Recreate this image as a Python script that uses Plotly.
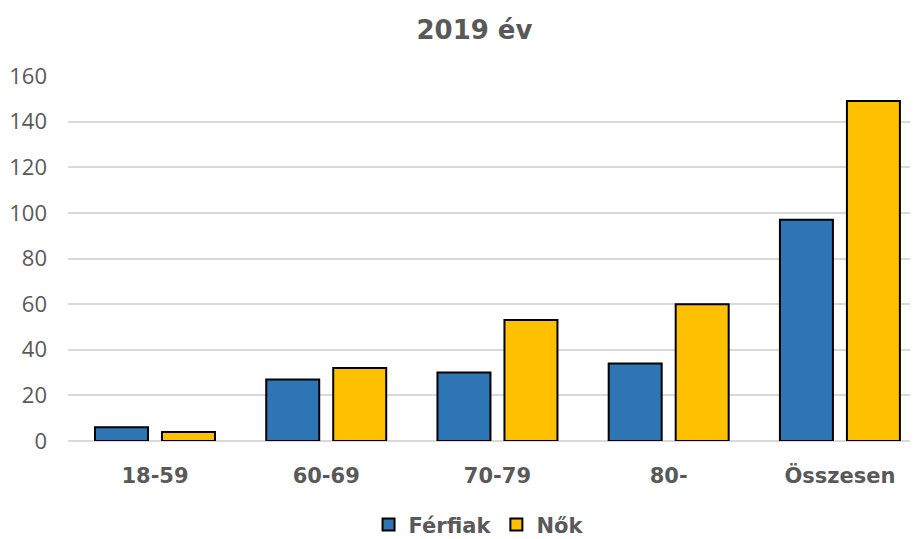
import plotly.graph_objects as go

categories = ["18-59", "60-69", "70-79", "80-", "Összesen"]
ferfiak = [6, 27, 30, 34, 97]
nok = [4, 32, 53, 60, 149]
y_ticks = [0, 20, 40, 60, 80, 100, 120, 140, 160]

BLUE = "#2E75B6"
YELLOW = "#FFC000"
TEXT = "#595959"
GRID = "#D9D9D9"
BOLD_FONT = "DejaVu Sans"
FONT = "Open Sans"

fig = go.Figure()
fig.add_trace(
    go.Bar(
        x=categories, y=ferfiak, name="<b>Férfiak</b>",
        marker=dict(color=BLUE, line=dict(color="black", width=2)),
    )
)
fig.add_trace(
    go.Bar(
        x=categories, y=nok, name="<b>Nők</b>",
        marker=dict(color=YELLOW, line=dict(color="black", width=2)),
    )
)

# the page body adds an 8px margin, so the figure is 8px smaller each way
fig.update_layout(
    width=910,
    height=531,
    margin=dict(l=60, r=0, t=68, b=98, autoexpand=False),
    paper_bgcolor="white",
    plot_bgcolor="white",
    barmode="group",
    bargap=0.2175,
    bargroupgap=0.209,
    font=dict(family=FONT, color=TEXT),
    title=dict(
        text="<b>2019 év</b>", x=0.5126, xanchor="center", y=0.959, yanchor="middle",
        font=dict(size=26, color=TEXT, family=BOLD_FONT),
    ),
    legend=dict(
        orientation="h", x=0.483, xanchor="center", y=-0.23, yanchor="middle",
        font=dict(size=21, color=TEXT, family=BOLD_FONT), itemwidth=30,
    ),
    showlegend=True,
)
fig.update_xaxes(
    automargin=False, showline=False, showgrid=False, ticks="",
    range=[-0.508, 4.456],
    tickfont=dict(size=21, color=TEXT, family=BOLD_FONT),
    tickprefix="<b>", ticksuffix="</b>",
    ticklabelstandoff=20,
)
fig.update_yaxes(
    automargin=False,
    range=[0, 160], tickvals=y_ticks, showgrid=True, gridcolor=GRID, gridwidth=1.5,
    zeroline=True, zerolinecolor=GRID, zerolinewidth=1.5, showline=False,
    tickfont=dict(size=22, color=TEXT, family=FONT),
    ticklabelstandoff=20,
)

fig.write_html("out.html")
